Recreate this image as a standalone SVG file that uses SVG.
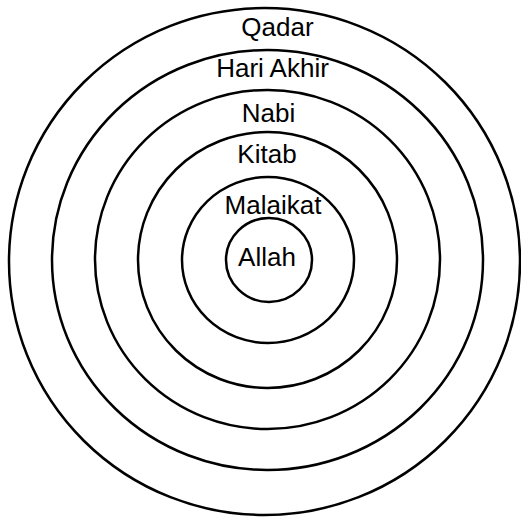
<svg xmlns="http://www.w3.org/2000/svg" width="521" height="518" viewBox="0 0 521 518">
<style>
.ring{fill:none;stroke:#000;stroke-width:2.5}
.lbl{font-family:"Liberation Sans",Arial,sans-serif;font-size:26px;fill:#000;text-anchor:middle}
</style>
<rect width="521" height="518" fill="#fff"/>
<g id="qadar"><ellipse class="ring" cx="264.5" cy="261.5" rx="255.5" ry="253.5"/><text class="lbl" x="277.5" y="36">Qadar</text></g>
<g id="hari-akhir"><ellipse class="ring" cx="267.5" cy="260" rx="215.5" ry="210"/><text class="lbl" x="272.5" y="77">Hari Akhir</text></g>
<g id="nabi"><ellipse class="ring" cx="267.5" cy="259.5" rx="172.5" ry="169.5"/><text class="lbl" x="268.5" y="122">Nabi</text></g>
<g id="kitab"><ellipse class="ring" cx="267.5" cy="260" rx="129.5" ry="128"/><text class="lbl" x="267" y="163">Kitab</text></g>
<g id="malaikat"><ellipse class="ring" cx="268" cy="260" rx="86" ry="83"/><text class="lbl" x="273" y="214">Malaikat</text></g>
<g id="allah"><ellipse class="ring" cx="269" cy="260" rx="43" ry="42"/><text class="lbl" x="267" y="266">Allah</text></g>
<g id="connectors"></g>
</svg>
